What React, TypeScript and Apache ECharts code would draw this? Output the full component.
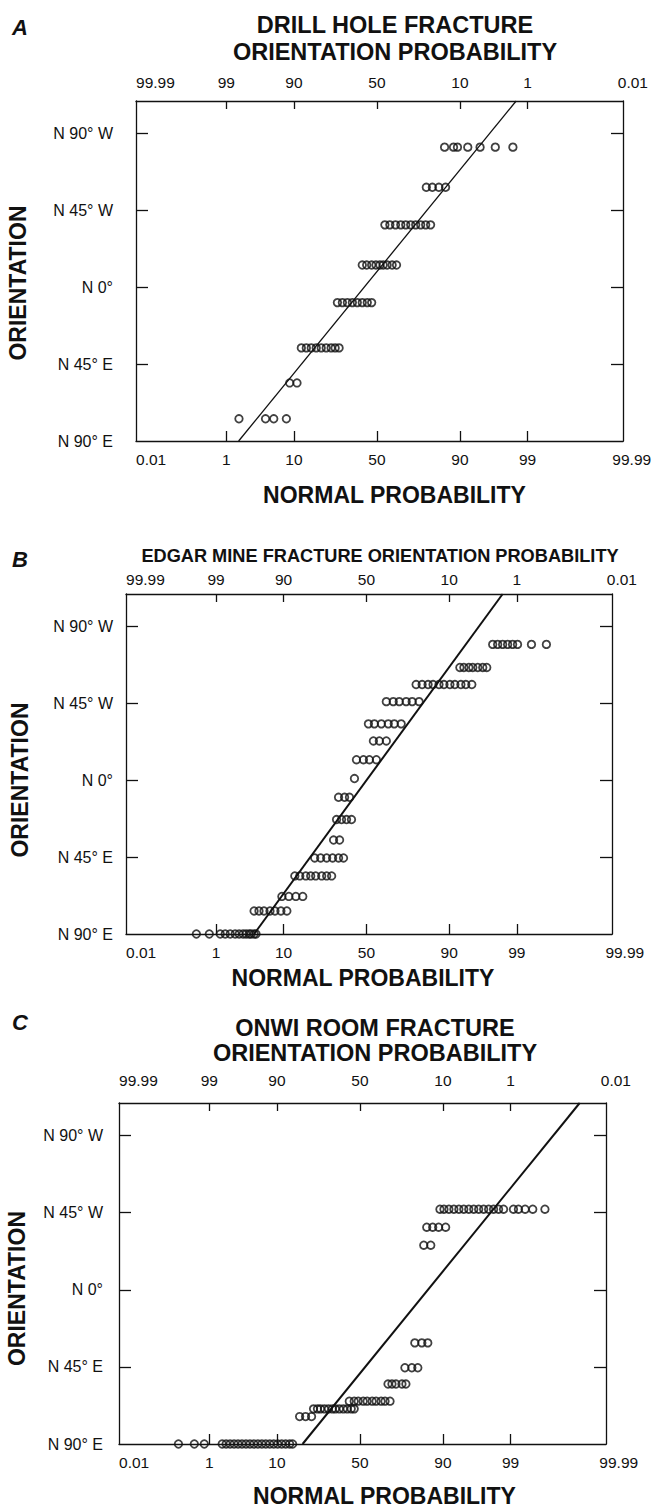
import React, { useEffect, useRef } from 'react';
import * as echarts from 'echarts';

// ---------- axis ticks / labels ----------
const PROB_TICKS = [0.01, 1, 10, 50, 90, 99, 99.99]; // percent
const BOTTOM_LABELS = ['0.01', '1', '10', '50', '90', '99', '99.99'];
const TOP_LABELS = ['99.99', '99', '90', '50', '10', '1', '0.01'];
const ORIENT_TICKS = [-90, -45, 0, 45, 90]; // degrees, E negative, W positive
const ORIENT_LABELS = ['N 90° E', 'N 45° E', 'N 0°', 'N 45° W', 'N 90° W'];

// ---------- Panel A : drill hole (normal scores per orientation row) ----------
const A_ORIENT = [82, 58.5, 36.5, 13, -9, -35.5, -56, -77];
const A_SCORES = [
  [1.045, 1.183, 1.244, 1.403, 1.593, 1.828, 2.1],
  [0.763, 0.856, 0.957, 1.06],
  [0.123, 0.2, 0.287, 0.369, 0.445, 0.522, 0.599, 0.676, 0.753, 0.829],
  [-0.226, -0.158, -0.081, -0.015, 0.046, 0.097, 0.158, 0.235, 0.303],
  [-0.61, -0.533, -0.456, -0.379, -0.303, -0.226, -0.149, -0.081],
  [-1.167, -1.09, -1.014, -0.937, -0.86, -0.783, -0.707, -0.645, -0.584],
  [-1.347, -1.234],
  [-2.13, -1.72, -1.593, -1.398],
];
const A_FIT = [[-2.135, -90], [2.15, 109]];

// ---------- Panel B : Edgar mine ----------
const B_ORIENT = [79.5, 66, 56, 46, 33, 23, 12, 1, -10, -23, -35, -45.5, -56, -68, -76.5, -90];
const B_SCORES = [
  [1.954, 2.031, 2.108, 2.185, 2.262, 2.338, 2.554, 2.785],
  [1.446, 1.508, 1.585, 1.646, 1.723, 1.8, 1.862],
  [0.769, 0.862, 0.954, 1.031, 1.123, 1.2, 1.292, 1.369, 1.462, 1.538, 1.631],
  [0.308, 0.415, 0.508, 0.615, 0.708, 0.815],
  [0.031, 0.123, 0.231, 0.338, 0.431, 0.538],
  [0.108, 0.2, 0.308],
  [-0.154, -0.046, 0.046, 0.154],
  [-0.185],
  [-0.431, -0.338, -0.262],
  [-0.462, -0.385, -0.308, -0.231],
  [-0.508, -0.415],
  [-0.8, -0.708, -0.615, -0.523, -0.431, -0.354],
  [-1.108, -1.031, -0.938, -0.862, -0.785, -0.692, -0.615, -0.538],
  [-1.308, -1.2, -1.092, -0.985],
  [-1.738, -1.662, -1.585, -1.492, -1.415, -1.323, -1.231],
  [-2.631, -2.431, -2.262, -2.185, -2.108, -2.031, -1.969, -1.908, -1.862, -1.815, -1.785, -1.738, -1.708],
];
const B_FIT = [[-1.738, -90], [2.108, 109]];

// ---------- Panel C : ONWI room ----------
const C_ORIENT = [47, 36.5, 26, -31, -45.5, -55, -65, -69.5, -74, -90];
const C_SCORES = [
  [1.236, 1.298, 1.374, 1.451, 1.528, 1.604, 1.681, 1.758, 1.834, 1.911, 1.988, 2.064, 2.141, 2.218, 2.371, 2.448, 2.551, 2.669, 2.857],
  [1.032, 1.124, 1.216, 1.324],
  [0.986, 1.094],
  [0.848, 0.956, 1.048],
  [0.695, 0.802, 0.894],
  [0.434, 0.495, 0.557, 0.649, 0.71],
  [-0.164, -0.088, -0.026, 0.051, 0.112, 0.189, 0.25, 0.327, 0.388, 0.465],
  [-0.716, -0.655, -0.609, -0.548, -0.486, -0.425, -0.379, -0.318, -0.256, -0.195, -0.134, -0.088],
  [-0.931, -0.839, -0.747],
  [-2.802, -2.557, -2.403, -2.127, -2.066, -2.005, -1.943, -1.882, -1.821, -1.759, -1.698, -1.637, -1.575, -1.514, -1.453, -1.391, -1.33, -1.269, -1.207, -1.146, -1.085, -1.039],
];
const C_FIT = [[-0.885, -90], [3.394, 109]];

// ---------- scale helpers ----------
function probit(p: number): number {
  const a = [-39.69683028665376, 220.9460984245205, -275.9285104469687, 138.357751867269, -30.66479806614716, 2.506628277459239];
  const b = [-54.47609879822406, 161.5858368580409, -155.6989798598866, 66.80131188771972, -13.28068155288572];
  const c = [-0.007784894002430293, -0.3223964580411365, -2.400758277161838, -2.549732539343734, 4.374664141464968, 2.938163982698783];
  const d = [0.007784695709041462, 0.3224671290700398, 2.445134137142996, 3.754408661907416];
  const pl = 0.02425;
  if (p < pl) {
    const q = Math.sqrt(-2 * Math.log(p));
    return (((((c[0] * q + c[1]) * q + c[2]) * q + c[3]) * q + c[4]) * q + c[5]) / ((((d[0] * q + d[1]) * q + d[2]) * q + d[3]) * q + 1);
  }
  if (p > 1 - pl) {
    const q = Math.sqrt(-2 * Math.log(1 - p));
    return -(((((c[0] * q + c[1]) * q + c[2]) * q + c[3]) * q + c[4]) * q + c[5]) / ((((d[0] * q + d[1]) * q + d[2]) * q + d[3]) * q + 1);
  }
  const q = p - 0.5;
  const r = q * q;
  return ((((((a[0] * r + a[1]) * r + a[2]) * r + a[3]) * r + a[4]) * r + a[5]) * q) / (((((b[0] * r + b[1]) * r + b[2]) * r + b[3]) * r + b[4]) * r + 1);
}

const X_MIN = -3.72;
const X_MAX = 3.8;
const Y_MIN = -90;
const Y_MAX = 109;

const FONT = "'Liberation Sans', Arial, Helvetica, sans-serif";
const INK = '#111111';
const TICK_FONT = 15.5;

const LABEL_Z = PROB_TICKS.map((p) => Math.max(X_MIN, Math.min(X_MAX, probit(p / 100))));
const TICK_Z = PROB_TICKS.slice(1, -1).map((p) => probit(p / 100));

function nearest(arr: number[], v: number) {
  let bi = 0;
  let bd = Infinity;
  arr.forEach((a, i) => {
    const dd = Math.abs(a - v);
    if (dd < bd) { bd = dd; bi = i; }
  });
  return bi;
}

// ---------- layout (positions / styles) ----------
const LAYOUT = [
  {
    letter: 'A', title: 'DRILL HOLE FRACTURE\nORIENTATION PROBABILITY', titleX: 390, titleTop: 6, titleSize: 23.5, titleLH: 27,
    letterTop: 11, grid: { left: 136, top: 101, width: 487, height: 340 },
    yMargin: 23, topMargin: 11, bottomMargin: 10, xNameGap: 42, xNamePad: [0, 0, 0, 30], yNameGap: 107, yNamePad: [0, 24, 0, 0],
    maxLabelPad: 28, lineW: 1.3, orient: A_ORIENT, scores: A_SCORES, fit: A_FIT,
  },
  {
    letter: 'B', title: 'EDGAR MINE FRACTURE ORIENTATION PROBABILITY', titleX: 375, titleTop: 540, titleSize: 18.2, titleLH: 22,
    letterTop: 543, grid: { left: 126, top: 594, width: 486, height: 340 },
    yMargin: 13, topMargin: 7, bottomMargin: 10, xNameGap: 32, xNamePad: [0, 12, 0, 0], yNameGap: 95, yNamePad: [0, 32, 0, 0],
    maxLabelPad: 36, lineW: 2, orient: B_ORIENT, scores: B_SCORES, fit: B_FIT,
  },
  {
    letter: 'C', title: 'ONWI ROOM FRACTURE\nORIENTATION PROBABILITY', titleX: 370, titleTop: 1010, titleSize: 23.5, titleLH: 25,
    letterTop: 1006, grid: { left: 119, top: 1103, width: 487, height: 341 },
    yMargin: 16, topMargin: 15, bottomMargin: 10, xNameGap: 40, xNamePad: [0, 0, 0, 44], yNameGap: 91, yNamePad: [0, 30, 0, 0],
    maxLabelPad: 36, lineW: 2, orient: C_ORIENT, scores: C_SCORES, fit: C_FIT,
  },
];

function buildOption() {
  const title: any[] = [];
  const grid: any[] = [];
  const xAxis: any[] = [];
  const yAxis: any[] = [];
  const series: any[] = [];
  const axisLine = { show: true, onZero: false, lineStyle: { color: INK, width: 1.3 } };
  const lastIdx = LABEL_Z.length - 1;

  LAYOUT.forEach((L, i) => {
    title.push({
      text: L.title, left: L.titleX, top: L.titleTop, textAlign: 'center',
      textStyle: { fontFamily: FONT, fontWeight: 'bold', fontSize: L.titleSize, lineHeight: L.titleLH, color: INK },
    });
    title.push({
      text: L.letter, left: 7, top: L.letterTop,
      textStyle: { fontFamily: FONT, fontWeight: 'bold', fontStyle: 'italic', fontSize: 22, color: INK },
    });
    grid.push({ ...L.grid, containLabel: false, outerBoundsMode: 'none', show: false });

    xAxis.push({
      type: 'value', gridIndex: i, position: 'bottom', min: X_MIN, max: X_MAX,
      axisLine,
      axisTick: { show: true, inside: true, length: 10, customValues: TICK_Z, lineStyle: { color: INK, width: 1.3 } },
      axisLabel: {
        show: true, customValues: LABEL_Z, margin: L.bottomMargin, fontFamily: FONT, fontSize: TICK_FONT, color: INK,
        alignMinLabel: 'left', alignMaxLabel: 'center',
        formatter: (v: number) => {
          const k = nearest(LABEL_Z, v);
          return k === lastIdx ? '{r|' + BOTTOM_LABELS[k] + '}' : BOTTOM_LABELS[k];
        },
        rich: { r: { padding: [0, 0, 0, L.maxLabelPad], fontFamily: FONT, fontSize: TICK_FONT, color: INK } },
      },
      splitLine: { show: false },
      name: 'NORMAL PROBABILITY', nameLocation: 'middle', nameGap: L.xNameGap,
      nameTextStyle: { fontFamily: FONT, fontWeight: 'bold', fontSize: 23, color: INK, padding: L.xNamePad },
    });
    xAxis.push({
      type: 'value', gridIndex: i, position: 'top', min: X_MIN, max: X_MAX,
      axisLine,
      axisTick: { show: true, inside: true, length: 8, customValues: TICK_Z, lineStyle: { color: INK, width: 1.3 } },
      axisLabel: {
        show: true, customValues: LABEL_Z, margin: L.topMargin, fontFamily: FONT, fontSize: TICK_FONT, color: INK,
        alignMinLabel: 'left', alignMaxLabel: 'left',
        formatter: (v: number) => TOP_LABELS[nearest(LABEL_Z, v)],
      },
      splitLine: { show: false },
    });
    yAxis.push({
      type: 'value', gridIndex: i, position: 'left', min: Y_MIN, max: Y_MAX,
      axisLine,
      axisTick: { show: true, inside: true, length: 12, customValues: ORIENT_TICKS.slice(1), lineStyle: { color: INK, width: 1.3 } },
      axisLabel: {
        show: true, customValues: ORIENT_TICKS, margin: L.yMargin, fontFamily: FONT, fontSize: 16, color: INK,
        formatter: (v: number) => ORIENT_LABELS[nearest(ORIENT_TICKS, v)],
      },
      splitLine: { show: false },
      name: 'ORIENTATION', nameLocation: 'middle', nameRotate: 90, nameGap: L.yNameGap,
      nameTextStyle: { fontFamily: FONT, fontWeight: 'bold', fontSize: 23, color: INK, padding: L.yNamePad },
    });
    yAxis.push({
      type: 'value', gridIndex: i, position: 'right', min: Y_MIN, max: Y_MAX,
      axisLine,
      axisTick: { show: true, inside: true, length: 12, customValues: ORIENT_TICKS.slice(1), lineStyle: { color: INK, width: 1.3 } },
      axisLabel: { show: false },
      splitLine: { show: false },
    });

    const pts: number[][] = [];
    L.scores.forEach((row, r) => row.forEach((z) => pts.push([z, L.orient[r]])));
    series.push({
      type: 'scatter', xAxisIndex: 2 * i, yAxisIndex: 2 * i, data: pts,
      symbol: 'circle', symbolSize: 7.5,
      itemStyle: { color: 'rgba(255,255,255,0)', borderColor: INK, borderWidth: 1.8 },
      silent: true, z: 3,
    });
    series.push({
      type: 'line', xAxisIndex: 2 * i, yAxisIndex: 2 * i, data: L.fit,
      showSymbol: false, symbol: 'none', clip: true,
      lineStyle: { color: INK, width: L.lineW }, silent: true, z: 2,
    });
  });

  return { animation: false, backgroundColor: '#ffffff', title, grid, xAxis, yAxis, series };
}

export default function App() {
  const ref = useRef<HTMLDivElement>(null);
  useEffect(() => {
    if (!ref.current) return;
    const chart = echarts.init(ref.current, undefined, { renderer: 'svg' });
    chart.setOption(buildOption() as any);
    return () => chart.dispose();
  }, []);
  return (
    <div
      ref={ref}
      style={{ position: 'absolute', left: 0, top: 0, width: 655, height: 1507, background: '#fff' }}
    />
  );
}
